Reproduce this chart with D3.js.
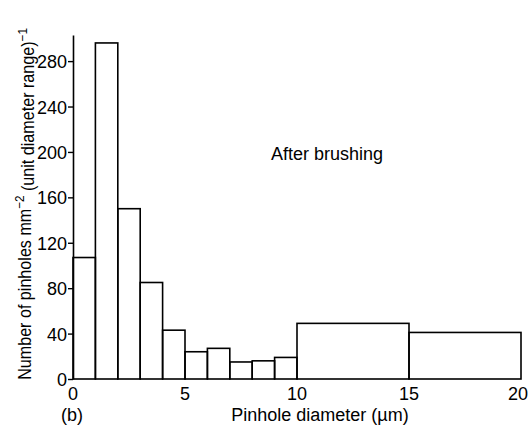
<!DOCTYPE html>
<html>
<head>
<meta charset="utf-8">
<script src="https://cdn.jsdelivr.net/npm/d3@7"></script>
<style>
  html, body { margin: 0; padding: 0; background: #fff; }
  svg { display: block; }
  text { font-family: "Liberation Sans", Arial, sans-serif; fill: #000; }
</style>
</head>
<body>
<svg id="chart" width="530" height="426"></svg>
<script>
// Histogram of pinhole diameters after brushing (unequal bin widths)
const binEdges = [0, 1, 2, 3, 4, 5, 6, 7, 8, 9, 10, 15, 20];
const binCounts = [107, 296, 150, 85, 43, 24, 27, 15, 16, 19, 49, 41];
const xTickValues = [0, 5, 10, 15, 20];
const yTickValues = [0, 40, 80, 120, 160, 200, 240, 280];

const svg = d3.select("#chart");
const fontSize = 18;

const x = d3.scaleLinear().domain([0, 20]).range([73, 521]);
const y = d3.scaleLinear().domain([0, 303]).range([379, 35]);

const bins = binCounts.map((v, i) => ({ x0: binEdges[i], x1: binEdges[i + 1], v }));

svg.append("g")
  .selectAll("rect")
  .data(bins)
  .join("rect")
  .attr("x", d => x(d.x0))
  .attr("y", d => y(d.v))
  .attr("width", d => x(d.x1) - x(d.x0))
  .attr("height", d => y(0) - y(d.v))
  .attr("fill", "none")
  .attr("stroke", "#000")
  .attr("stroke-width", 1.6);

// Left axis: outward ticks, line running past the last tick
const yAxis = svg.append("g")
  .attr("transform", `translate(${x(0)},0)`)
  .call(d3.axisLeft(y).tickValues(yTickValues).tickSize(5).tickSizeOuter(0).tickPadding(1));
yAxis.attr("font-family", null).attr("font-size", null);
yAxis.select(".domain").attr("stroke-width", 1.6);
yAxis.selectAll(".tick line").attr("stroke-width", 1.4);
yAxis.selectAll(".tick text").attr("font-size", fontSize).attr("dy", "0.36em");

// Bottom labels only, no tick marks
svg.append("g")
  .selectAll("text")
  .data(xTickValues)
  .join("text")
  .attr("x", d => x(d))
  .attr("dx", (d, i) => i === xTickValues.length - 1 ? -3 : 0)
  .attr("y", 400)
  .attr("text-anchor", "middle")
  .attr("font-size", fontSize)
  .text(d => d);

svg.append("text")
  .attr("x", 61)
  .attr("y", 421)
  .attr("font-size", fontSize)
  .text("(b)");

svg.append("text")
  .attr("x", 320)
  .attr("y", 421)
  .attr("text-anchor", "middle")
  .attr("font-size", fontSize)
  .text("Pinhole diameter (\u00b5m)");

svg.append("text")
  .attr("x", 271)
  .attr("y", 160)
  .attr("font-size", fontSize)
  .text("After brushing");

// Rotated y-axis title with superscripts, squeezed along its length
const yTitle = svg.append("text")
  .attr("text-anchor", "middle")
  .attr("font-size", fontSize);
yTitle.append("tspan").text("Number of pinholes  mm");
yTitle.append("tspan").attr("font-size", 13).attr("dy", "-0.55em").text("\u22122");
yTitle.append("tspan").attr("dy", "0.55em").text(" (unit diameter range)");
yTitle.append("tspan").attr("font-size", 13).attr("dy", "-0.55em").text("\u22121");
const titleLen = yTitle.node().getComputedTextLength();
const squeeze = Math.min(1, 352 / titleLen);
yTitle.attr("transform", `translate(31,204) rotate(-90) scale(${squeeze},1)`);
</script>
</body>
</html>
